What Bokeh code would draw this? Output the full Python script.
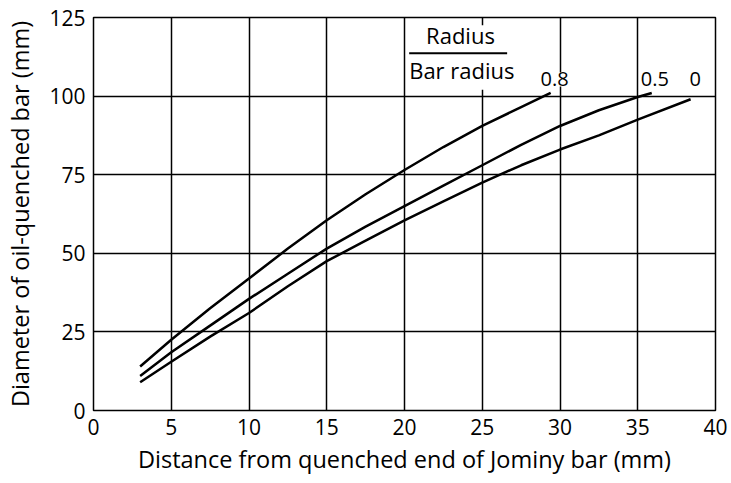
from bokeh.plotting import figure
from bokeh.models import Label, FixedTicker, Range1d
from bokeh.embed import file_html
from bokeh.resources import INLINE

# Data
x_08 = [3, 5, 7.5, 10, 12.5, 15, 17.5, 20, 22.5, 25, 27.5, 29.4]
y_08 = [14, 22.5, 32.5, 42, 51.5, 60.5, 68.8, 76.5, 83.8, 90.5, 96.5, 101]

x_05 = [3, 5, 7.5, 10, 12.5, 15, 17.5, 20, 22.5, 25, 27.5, 30, 32.5, 35, 35.9]
y_05 = [11, 18.5, 27, 35.5, 43.5, 51.5, 58.5, 65, 71.5, 78, 84.5, 90.5, 95.5, 99.7, 101]

x_00 = [3, 5, 7.5, 10, 12.5, 15, 17.5, 20, 22.5, 25, 27.5, 30, 32.5, 35, 38.4]
y_00 = [9, 15.5, 23.5, 31, 39.5, 47.5, 54, 60.5, 66.5, 72.5, 78, 83, 87.5, 92.5, 99]

x_ticks = [0, 5, 10, 15, 20, 25, 30, 35, 40]
y_ticks = [0, 25, 50, 75, 100, 125]

FONT = "Open Sans"

p = figure(width=731, height=483, output_backend="svg", toolbar_location=None,
           x_range=Range1d(0, 40), y_range=Range1d(0, 125),
           min_border_left=93, min_border_right=16, min_border_top=17, min_border_bottom=73)

p.background_fill_color = "white"
p.border_fill_color = "white"
p.outline_line_color = "black"
p.outline_line_width = 1.5
p.outline_line_alpha = 1

for ax in (p.xaxis, p.yaxis):
    ax.axis_line_color = None
    ax.major_tick_in = 0
    ax.major_tick_out = 0
    ax.minor_tick_in = 0
    ax.minor_tick_out = 0
    ax.major_label_text_font = FONT
    ax.major_label_text_font_size = "21px"
    ax.major_label_text_color = "black"
    ax.axis_label_text_font = FONT
    ax.axis_label_text_font_size = "23.5px"
    ax.axis_label_text_font_style = "normal"
    ax.axis_label_text_color = "black"

p.xaxis.ticker = FixedTicker(ticks=x_ticks)
p.yaxis.ticker = FixedTicker(ticks=y_ticks)
p.xaxis.axis_label = "Distance from quenched end of Jominy bar (mm)"
p.yaxis.axis_label = "Diameter of oil-quenched bar (mm)"
p.xaxis.major_label_standoff = 8
p.yaxis.major_label_standoff = 8
p.xaxis.axis_label_standoff = 5
p.yaxis.axis_label_standoff = 10

p.grid.grid_line_color = "black"
p.grid.grid_line_width = 1.5
p.grid.grid_line_alpha = 1

# white box behind the "Radius / Bar radius" note (hides grid there)
p.quad(left=[20.15], right=[28.0], bottom=[102.0], top=[122.5],
       fill_color="white", line_color=None)

for xs, ys in ((x_08, y_08), (x_05, y_05), (x_00, y_00)):
    p.line(xs, ys, line_color="black", line_width=2.5)

# annotation "Radius / Bar radius"
p.add_layout(Label(x=23.6, y=119.3, text="Radius", text_align="center", text_baseline="middle",
                   text_font=FONT, text_font_size="22px", text_color="black"))
p.segment(x0=[20.3], y0=[113.6], x1=[26.6], y1=[113.6], line_color="black", line_width=2)
p.add_layout(Label(x=20.3, y=108.3, text="Bar radius", text_align="left", text_baseline="middle",
                   text_font=FONT, text_font_size="22px", text_color="black"))

for lx, lt in ((29.65, "0.8"), (36.1, "0.5"), (38.7, "0")):
    p.add_layout(Label(x=lx, y=105.3, text=lt, text_align="center", text_baseline="middle",
                       text_font=FONT, text_font_size="20px", text_color="black",
                       background_fill_color="white"))

open("out.html", "w").write(file_html(p, INLINE))
